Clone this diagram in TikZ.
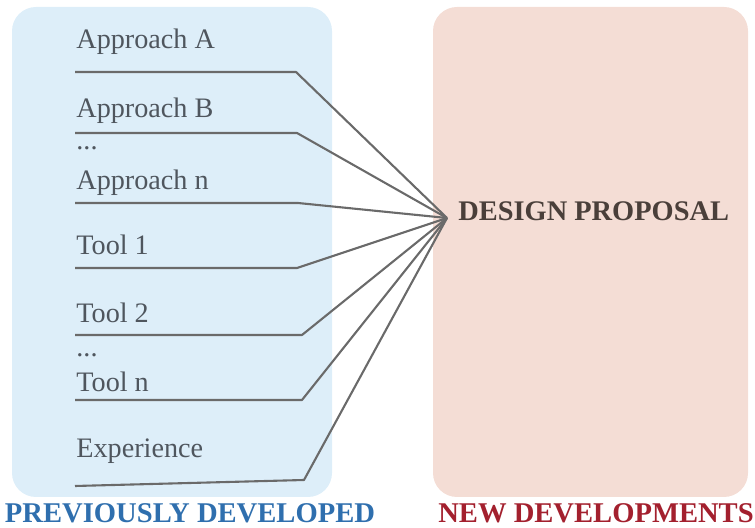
\documentclass[tikz,border=0pt]{standalone}
\usepackage{fontspec}
\setmainfont{Liberation Serif}
\usepackage{tikz}

\definecolor{oldpanel}{HTML}{DDEEF9}
\definecolor{newpanel}{HTML}{F4DDD5}
\definecolor{itemtext}{HTML}{4F565E}
\definecolor{linkgray}{HTML}{6A6A6A}
\definecolor{oldblue}{HTML}{2F6FAE}
\definecolor{newred}{HTML}{A3202E}
\definecolor{titletext}{HTML}{4A3F3A}

\begin{document}
\begin{tikzpicture}[x=0.5pt, y=-0.5pt,
    item/.style={anchor=base west, inner sep=0pt, text=itemtext, font=\fontsize{14.1}{17}\selectfont},
    link/.style={draw=linkgray, line width=1.05pt, line join=round},
    caption/.style={anchor=base, inner sep=0pt, font=\fontsize{14.3}{17}\selectfont\bfseries}]
    \useasboundingbox (0,0) rectangle (755,528);
    % Panels
    \fill[oldpanel, rounded corners=12pt] (12,7) rectangle (332,497);
    \fill[newpanel, rounded corners=12pt] (433,7) rectangle (748,497);
    % Proposal
    \node[anchor=base west, inner sep=0pt, text=titletext, font=\fontsize{14.2}{17}\selectfont\bfseries] (proposal) at (458,221) {DESIGN PROPOSAL};
    \coordinate (hub) at (447,218);
    % Items
    \node[item] (appA) at (76,49) {Approach A};
    \node[item] (appB) at (76,118) {Approach B};
    \node[item] (dotsA) at (76,150) {...};
    \node[item] (appN) at (76,190) {Approach n};
    \node[item] (tool1) at (76,255) {Tool 1};
    \node[item] (tool2) at (76,323) {Tool 2};
    \node[item] (dotsB) at (76,357) {...};
    \node[item] (toolN) at (76,392) {Tool n};
    \node[item] (exper) at (76,458) {Experience};
    % Underlines and links to the proposal
    \draw[link] (75,72) coordinate (appA-l) -- (296,72) coordinate (appA-k) -- (hub);
    \draw[link] (75,133) coordinate (appB-l) -- (297,133) coordinate (appB-k) -- (hub);
    \draw[link] (75,203) coordinate (appN-l) -- (298,203) coordinate (appN-k) -- (hub);
    \draw[link] (75,268) coordinate (tool1-l) -- (297,268) coordinate (tool1-k) -- (hub);
    \draw[link] (75,335) coordinate (tool2-l) -- (302,335) coordinate (tool2-k) -- (hub);
    \draw[link] (75,400) coordinate (toolN-l) -- (302,400) coordinate (toolN-k) -- (hub);
    \draw[link] (75,486) coordinate (exper-l) -- (304,480) coordinate (exper-k) -- (hub);
    % Captions
    \node[caption, text=oldblue] (oldcap) at (190,523) {PREVIOUSLY DEVELOPED};
    \node[caption, text=newred] (newcap) at (596,523) {NEW DEVELOPMENTS};
\end{tikzpicture}
\end{document}
